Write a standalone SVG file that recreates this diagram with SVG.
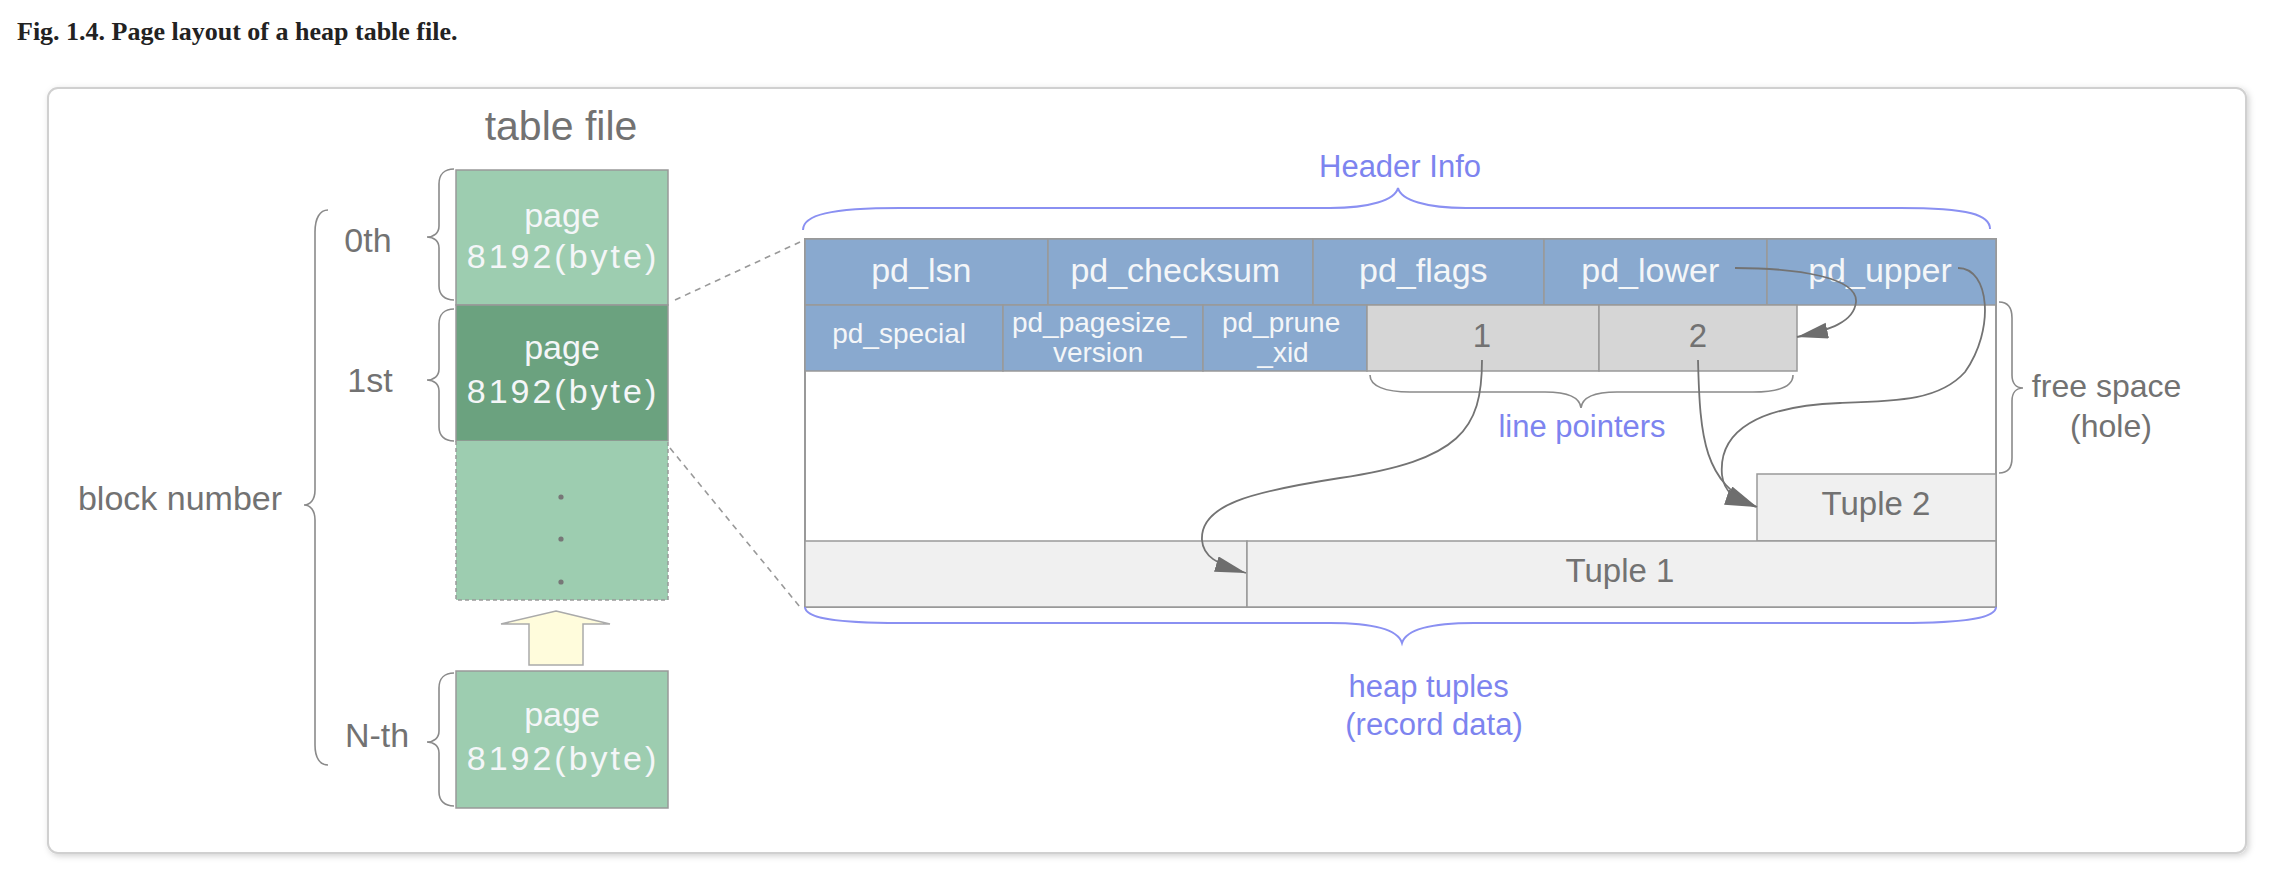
<svg xmlns="http://www.w3.org/2000/svg" width="2284" height="880" viewBox="0 0 2284 880">
  <defs>
    <style>
      .sans { font-family: "Liberation Sans", Arial, sans-serif; }
      .title { font-family: "Liberation Serif", "Times New Roman", serif; font-weight: bold; font-size: 26px; fill: #222; }
      .gray { fill: #727272; }
      .blue { fill: #7d84ef; }
      .white { fill: #f4f6f8; }
      .brace { fill: none; stroke: #8a8a8a; stroke-width: 1.6; }
      .bbrace { fill: none; stroke: #8a90f2; stroke-width: 2; }
      .cell { stroke: #999; stroke-width: 1.5; }
      .hdr { fill: #89a9cf; }
      .lp { fill: #d6d6d6; }
      .tup { fill: #f0f0f0; }
      .pg { fill: #9dcdb0; stroke: #999; stroke-width: 1.5; }
      .pgdark { fill: #6ba27f; stroke: #999; stroke-width: 1.5; }
      .link { fill: none; stroke: #737373; stroke-width: 1.8; }
      .dash { fill: none; stroke: #999; stroke-width: 1.6; stroke-dasharray: 6 5; }
    </style>
    <marker id="head" markerUnits="userSpaceOnUse" markerWidth="34" markerHeight="20" refX="31" refY="8" orient="auto">
      <path d="M0,0 L31,8 L0,16 z" fill="#6e6e6e"/>
    </marker>
    <filter id="shadow" x="-2%" y="-2%" width="104%" height="106%">
      <feDropShadow dx="2" dy="2" stdDeviation="3" flood-color="#000" flood-opacity="0.18"/>
    </filter>
  </defs>

  <rect width="2284" height="880" fill="#fff"/>
  <text class="title" x="17" y="40">Fig. 1.4. Page layout of a heap table file.</text>

  <!-- outer frame -->
  <rect x="48" y="88" width="2198" height="765" rx="10" fill="#fff" stroke="#d0d0d0" stroke-width="2" filter="url(#shadow)"/>

  <!-- table file column -->
  <g id="table-file-label">
    <text class="sans gray" x="561" y="140" font-size="41" text-anchor="middle">table file</text>
  </g>

  <g id="page-0">
    <rect class="pg" x="456" y="170" width="212" height="135"/>
    <text class="sans white" x="562" y="227" font-size="34" text-anchor="middle">page</text>
    <text class="sans white" x="563" y="268" font-size="34" letter-spacing="3" text-anchor="middle">8192(byte)</text>
  </g>

  <g id="page-1">
    <rect class="pgdark" x="456" y="305" width="212" height="136"/>
    <text class="sans white" x="562" y="359" font-size="34" text-anchor="middle">page</text>
    <text class="sans white" x="563" y="403" font-size="34" letter-spacing="3" text-anchor="middle">8192(byte)</text>
  </g>

  <g id="page-more">
    <rect x="456" y="441" width="212" height="159" fill="#9dcdb0"/>
    <path d="M456,441 V600 H668 V441" fill="none" stroke="#999" stroke-width="1.5" stroke-dasharray="4 3"/>
    <circle cx="561" cy="497" r="2.6" fill="#777"/>
    <circle cx="561" cy="539" r="2.6" fill="#777"/>
    <circle cx="561" cy="582" r="2.6" fill="#777"/>
  </g>

  <g id="grow-arrow">
    <polygon points="556,611 610,624 583,624 583,665 529,665 529,624 501,624" fill="#fffcdc" stroke="#aaa" stroke-width="1.5"/>
  </g>

  <g id="page-n">
    <rect class="pg" x="456" y="671" width="212" height="137"/>
    <text class="sans white" x="562" y="726" font-size="34" text-anchor="middle">page</text>
    <text class="sans white" x="563" y="770" font-size="34" letter-spacing="3" text-anchor="middle">8192(byte)</text>
  </g>

  <!-- block number labels and braces -->
  <g id="block-labels">
    <path class="brace" d="M454,169 C445,169 439,174 439,184 L439,226 C439,233 434,237 427,237 C434,237 439,241 439,248 L439,286 C439,295 445,300 454,300"/>
    <path class="brace" d="M454,309 C445,309 439,314 439,324 L439,369 C439,376 434,380 427,380 C434,380 439,384 439,391 L439,427 C439,436 445,441 454,441"/>
    <path class="brace" d="M454,673 C445,673 439,678 439,688 L439,731 C439,738 434,742 427,742 C434,742 439,746 439,753 L439,792 C439,801 445,806 454,806"/>
    <path class="brace" d="M328,210 C320,210 315,218 315,232 L315,490 C315,500 310,505 304,505 C310,505 315,510 315,520 L315,745 C315,758 320,765 328,765"/>
    <text class="sans gray" x="368" y="252" font-size="34" text-anchor="middle">0th</text>
    <text class="sans gray" x="370" y="392" font-size="34" text-anchor="middle">1st</text>
    <text class="sans gray" x="377" y="747" font-size="34" text-anchor="middle">N-th</text>
    <text class="sans gray" x="180" y="510" font-size="34" text-anchor="middle">block number</text>
  </g>

  <!-- zoom lines from page 1 to the page layout -->
  <g id="zoom-lines">
    <path class="dash" d="M675,300 L800,242"/>
    <path class="dash" d="M670,448 L800,607"/>
  </g>

  <!-- page layout -->
  <g id="page-layout">
    <rect x="805" y="239" width="1191" height="368" fill="#fff" stroke="#999" stroke-width="2"/>
  </g>

  <g id="header-row-1">
    <rect class="hdr cell" x="805" y="239" width="243" height="66"/>
    <rect class="hdr cell" x="1048" y="239" width="265" height="66"/>
    <rect class="hdr cell" x="1313" y="239" width="231" height="66"/>
    <rect class="hdr cell" x="1544" y="239" width="223" height="66"/>
    <rect class="hdr cell" x="1767" y="239" width="229" height="66"/>
    <text class="sans white" font-size="34" text-anchor="middle" y="282">
      <tspan x="926">pd_lsn</tspan>
      <tspan x="1180">pd_checksum</tspan>
      <tspan x="1428">pd_flags</tspan>
      <tspan x="1655">pd_lower</tspan>
      <tspan x="1880">pd_upper</tspan>
    </text>
  </g>

  <g id="header-row-2">
    <rect class="hdr cell" x="805" y="305" width="198" height="66"/>
    <rect class="hdr cell" x="1003" y="305" width="200" height="66"/>
    <rect class="hdr cell" x="1203" y="305" width="164" height="66"/>
    <text class="sans white" font-size="28" text-anchor="middle">
      <tspan x="903" y="343">pd_special</tspan>
      <tspan x="1103" y="332">pd_pagesize_</tspan>
      <tspan x="1102" y="362">version</tspan>
      <tspan x="1285" y="332">pd_prune</tspan>
      <tspan x="1283" y="362">_xid</tspan>
    </text>
  </g>

  <g id="line-pointer-1">
    <rect class="lp cell" x="1367" y="305" width="232" height="66"/>
    <text class="sans gray" x="1482" y="347" font-size="33" text-anchor="middle">1</text>
  </g>
  <g id="line-pointer-2">
    <rect class="lp cell" x="1599" y="305" width="198" height="66"/>
    <text class="sans gray" x="1698" y="347" font-size="33" text-anchor="middle">2</text>
  </g>

  <g id="tuple-2">
    <rect class="tup cell" x="1757" y="474" width="239" height="67"/>
    <text class="sans gray" x="1876" y="515" font-size="33" text-anchor="middle">Tuple 2</text>
  </g>
  <g id="tuple-1">
    <rect class="tup cell" x="805" y="541" width="442" height="66"/>
    <rect class="tup cell" x="1247" y="541" width="749" height="66"/>
    <text class="sans gray" x="1620" y="582" font-size="33" text-anchor="middle">Tuple 1</text>
  </g>

  <!-- region labels -->
  <g id="header-info">
    <path class="bbrace" d="M803,230 C803,215 830,208 900,208 L1330,208 C1370,208 1395,200 1398,188 C1401,200 1426,208 1466,208 L1900,208 C1970,208 1990,215 1990,229"/>
    <text class="sans blue" x="1400" y="177" font-size="31" text-anchor="middle">Header Info</text>
  </g>
  <g id="line-pointers">
    <path class="brace" d="M1370,375 C1370,386 1385,392 1410,392 L1545,392 C1570,392 1580,398 1581,408 C1582,398 1592,392 1617,392 L1753,392 C1780,392 1793,386 1793,375"/>
    <text class="sans blue" x="1582" y="437" font-size="31" text-anchor="middle">line pointers</text>
  </g>
  <g id="free-space">
    <path class="brace" d="M1999,302 C2008,302 2012,307 2012,318 L2012,375 C2012,383 2016,388 2023,388 C2016,388 2012,393 2012,401 L2012,458 C2012,468 2008,473 1999,473"/>
    <text class="sans gray" font-size="32" text-anchor="middle">
      <tspan x="2111" y="397">free space</tspan>
      <tspan x="2111" y="437">(hole)</tspan>
    </text>
  </g>
  <g id="heap-tuples">
    <path class="bbrace" d="M805,607 C805,617 830,623 900,623 L1330,623 C1375,623 1398,630 1402,643 C1406,630 1429,623 1474,623 L1900,623 C1970,623 1996,617 1996,607"/>
    <text class="sans blue" font-size="31" text-anchor="middle">
      <tspan x="1433" y="697">heap tuples</tspan>
      <tspan x="1434" y="735">(record data)</tspan>
    </text>
  </g>

  <!-- pointer connectors -->
  <g id="connectors">
    <path class="link" marker-end="url(#head)" d="M1482,360 C1482,430 1460,460 1340,478 C1250,492 1200,505 1202,540 C1203,556 1216,564 1246,573"/>
    <path class="link" marker-end="url(#head)" d="M1698,360 C1700,440 1704,482 1757,507"/>
    <path class="link" marker-end="url(#head)" d="M1958,268 C1990,268 1995,330 1965,372 C1940,400 1900,401 1840,403 C1760,406 1718,430 1722,475 C1724,492 1735,500 1756,507"/>
    <path class="link" marker-end="url(#head)" d="M1735,268 C1800,268 1858,278 1856,302 C1854,322 1830,330 1797,337"/>
  </g>
</svg>
